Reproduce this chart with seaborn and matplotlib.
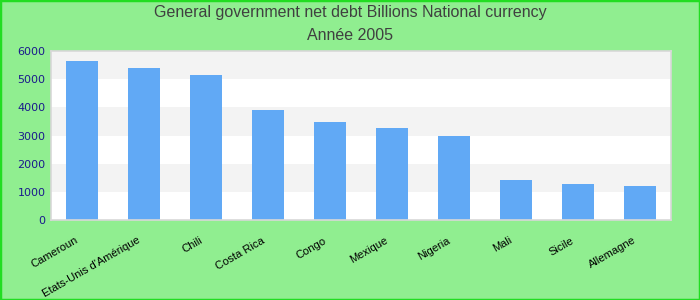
import matplotlib
matplotlib.use("Agg")
import matplotlib.pyplot as plt
import matplotlib.transforms as mtrans
import seaborn as sns
import pandas as pd

categories = ["Cameroun", "Etats-Unis d'Amérique", "Chili", "Costa Rica", "Congo",
              "Mexique", "Nigeria", "Mali", "Sicile", "Allemagne"]
values = [5650, 5400, 5150, 3890, 3480, 3260, 2970, 1430, 1290, 1210]
yticks = [0, 1000, 2000, 3000, 4000, 5000, 6000]
title_lines = ["General government net debt Billions National currency", "Année 2005"]

df = pd.DataFrame({"pays": categories, "valeur": values})

sns.set_theme(style="white")
plt.rcParams['font.family'] = ['Liberation Sans', 'DejaVu Sans']

fig = plt.figure(figsize=(7, 3), dpi=100, facecolor="#90ee90")
ax = fig.add_axes([51/700, 80/300, 620/700, 169/300])
ax.set_facecolor("white")

for i, lo in enumerate(yticks[:-1]):
    if i % 2 == 1:
        ax.axhspan(lo, lo + 1000, color="#f3f3f3", zorder=0, lw=0)

sns.barplot(data=df, x="pays", y="valeur", color="#61a9f5", saturation=1,
            width=0.52, ax=ax, zorder=2, linewidth=0, edgecolor="none")

ax.set_xlim(-0.5, len(categories) - 0.5)
ax.set_ylim(0, 6000)
ax.set_yticks(yticks)
ax.set_yticklabels([str(t) for t in yticks], fontsize=8, color="#1a1a8c",
                   family=["DejaVu Sans"])
ax.set_xticks(range(len(categories)))
ax.set_xticklabels(categories, rotation=30, ha="right", rotation_mode="anchor",
                   fontsize=8, color="black")
ax.tick_params(axis="both", length=0, pad=4)
ax.tick_params(axis="x", pad=11)
shift = mtrans.ScaledTranslation(-7/100, 0, fig.dpi_scale_trans)
for lab in ax.get_xticklabels():
    lab.set_transform(lab.get_transform() + shift)
ax.set_xlabel("")
ax.set_ylabel("")
for s in ax.spines.values():
    s.set_color("#d8d8d8")
    s.set_linewidth(1.2)

fig.text(0.5, 1 - 13/300, title_lines[0], ha="center", va="center",
         fontsize=11.5, color="#404040")
fig.text(0.5, 1 - 36/300, title_lines[1], ha="center", va="center",
         fontsize=11.5, color="#404040")

fig.patches.append(plt.Rectangle((0, 0), 1, 1, transform=fig.transFigure,
                                 fill=False, edgecolor="#22dd22", linewidth=2.5))

fig.savefig("out.png", dpi=100, facecolor=fig.get_facecolor())
